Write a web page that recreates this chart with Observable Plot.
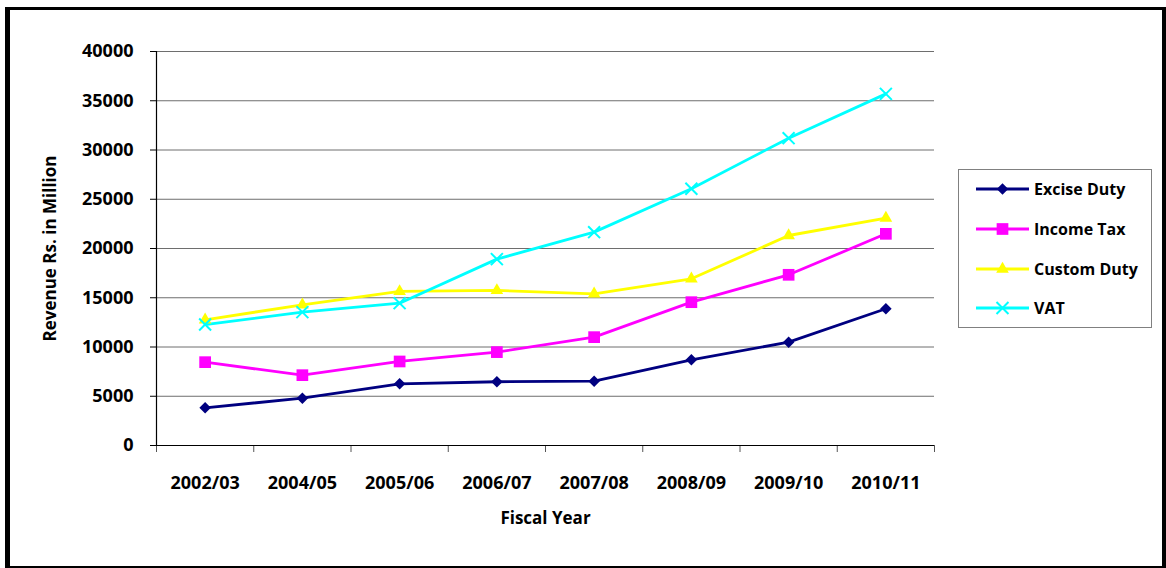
<!DOCTYPE html>
<html>
<head>
<meta charset="utf-8">
<script src="https://cdn.jsdelivr.net/npm/d3@7"></script>
<script src="https://cdn.jsdelivr.net/npm/@observablehq/plot@0.6"></script>
<style>
  html, body { margin: 0; padding: 0; background: #fff; }
  #wrap { position: relative; width: 1166px; height: 568px; overflow: hidden; background: #fff; }
  #chart { position: absolute; left: 0; top: 0; }
  #border { position: absolute; left: 5px; top: 7px; width: 1161px; height: 561px; box-sizing: border-box;
    border-style: solid; border-color: #000; border-width: 3px 4px 2px 5px; pointer-events: none; }
  #legend { position: absolute; left: 958px; top: 169px; }
</style>
</head>
<body>
<div id="wrap">
  <div id="chart"></div>
  <div id="legend"></div>
  <div id="border"></div>
</div>
<script>
// ---- data ----
const years = ["2002/03", "2004/05", "2005/06", "2006/07", "2007/08", "2008/09", "2009/10", "2010/11"];
const exciseDuty = [3830, 4800, 6260, 6470, 6530, 8700, 10490, 13880];
const incomeTax = [8460, 7140, 8530, 9480, 11000, 14550, 17330, 21490];
const customDuty = [12760, 14280, 15640, 15740, 15400, 16920, 21320, 23080];
const vat = [12280, 13540, 14450, 18920, 21660, 26060, 31200, 35700];
const seriesNames = ["Excise Duty", "Income Tax", "Custom Duty", "VAT"];
const yTicks = [0, 5000, 10000, 15000, 20000, 25000, 30000, 35000, 40000];
const yTitle = "Revenue Rs. in Million";
const xTitle = "Fiscal Year";

// ---- styles ----
const colors = ["#000080", "#FF00FF", "#FFFF00", "#00FFFF"];
const symbols = ["diamond2", "square", "triangle", "times"];
const radii = [5.2, 6.6, 4.7, 5.5];
const font = "'Open Sans', 'DejaVu Sans', sans-serif";

const seriesValues = [exciseDuty, incomeTax, customDuty, vat];
const rows = [];
seriesNames.forEach((s, k) => years.forEach((y, i) => rows.push({series: s, k, year: y, i, value: seriesValues[k][i]})));
const xPos = d => d.i + 0.5;

const dotMarks = seriesNames.map((s, k) => {
  const sub = rows.filter(d => d.k === k);
  const isStroke = symbols[k] === "times";
  return Plot.dot(sub, {
    x: xPos, y: "value", symbol: () => symbols[k], r: radii[k],
    fill: isStroke ? "none" : colors[k],
    stroke: isStroke ? colors[k] : "none",
    strokeWidth: isStroke ? 2 : 0
  });
});

const chart = Plot.plot({
  width: 1166,
  height: 568,
  marginLeft: 156,
  marginRight: 232,
  marginTop: 51,
  marginBottom: 123,
  style: {fontFamily: font, fontWeight: "bold", fontSize: "18px", color: "#000", background: "transparent"},
  x: {type: "linear", domain: [0, years.length]},
  y: {domain: [0, 40000]},
  symbol: {domain: symbols, range: symbols},
  marks: [
    Plot.ruleY(yTicks.filter(v => v > 0), {stroke: "#6e6e6e", strokeWidth: 1, strokeOpacity: 1}),
    Plot.axisY({ticks: yTicks, tickSize: 6, tickPadding: 17, tickFormat: d => String(d), label: null, stroke: "#000", strokeOpacity: 1}),
    Plot.axisX({ticks: d3.range(0, years.length + 1), tickSize: 7, tickFormat: () => "", label: null, stroke: "#555", strokeOpacity: 1}),
    Plot.axisX({ticks: years.map((y, i) => i + 0.5), tickSize: 0, tickPadding: 31, tickFormat: v => years[Math.floor(v)], label: null}),
    Plot.ruleX([0], {stroke: "#000", strokeWidth: 1.2}),
    Plot.ruleY([0], {stroke: "#000", strokeWidth: 1.2}),
    Plot.line(rows, {x: xPos, y: "value", z: "series", stroke: d => colors[d.k], strokeWidth: 2.8, curve: "linear"}),
    ...dotMarks,
    Plot.text([yTitle], {text: d => d, frameAnchor: "left", dx: -106, rotate: -90, textAnchor: "middle", lineAnchor: "middle", fontSize: 17, fontWeight: "bold"}),
    Plot.text([xTitle], {text: d => d, frameAnchor: "bottom", dy: 73, textAnchor: "middle", lineAnchor: "middle", fontSize: 17, fontWeight: "bold"})
  ]
});
document.getElementById("chart").appendChild(chart);

// ---- legend ----
const lw = 194, lh = 159;
const lsvg = d3.select("#legend").append("svg").attr("width", lw).attr("height", lh)
  .style("font-family", font).style("font-weight", "bold").style("font-size", "16px");
lsvg.append("rect").attr("x", 0.5).attr("y", 0.5).attr("width", lw - 1).attr("height", lh - 1)
  .attr("fill", "#fff").attr("stroke", "#808080");
const rowY = [20, 60, 100, 139];
seriesNames.forEach((s, k) => {
  const g = lsvg.append("g").attr("transform", `translate(0,${rowY[k]})`);
  g.append("line").attr("x1", 18).attr("x2", 71).attr("y1", 0).attr("y2", 0)
    .attr("stroke", colors[k]).attr("stroke-width", 2.8);
  const symMap = {diamond2: d3.symbolDiamond2, square: d3.symbolSquare, triangle: d3.symbolTriangle, times: d3.symbolTimes};
  const isStroke = symbols[k] === "times";
  g.append("path").attr("transform", "translate(44.5,0)")
    .attr("d", d3.symbol(symMap[symbols[k]], radii[k] * radii[k] * Math.PI)())
    .attr("fill", isStroke ? "none" : colors[k])
    .attr("stroke", isStroke ? colors[k] : "none")
    .attr("stroke-width", isStroke ? 2 : 0);
  g.append("text").attr("x", 76).attr("y", 0).attr("dy", "0.35em").attr("fill", "#000").text(s);
});
</script>
</body>
</html>
